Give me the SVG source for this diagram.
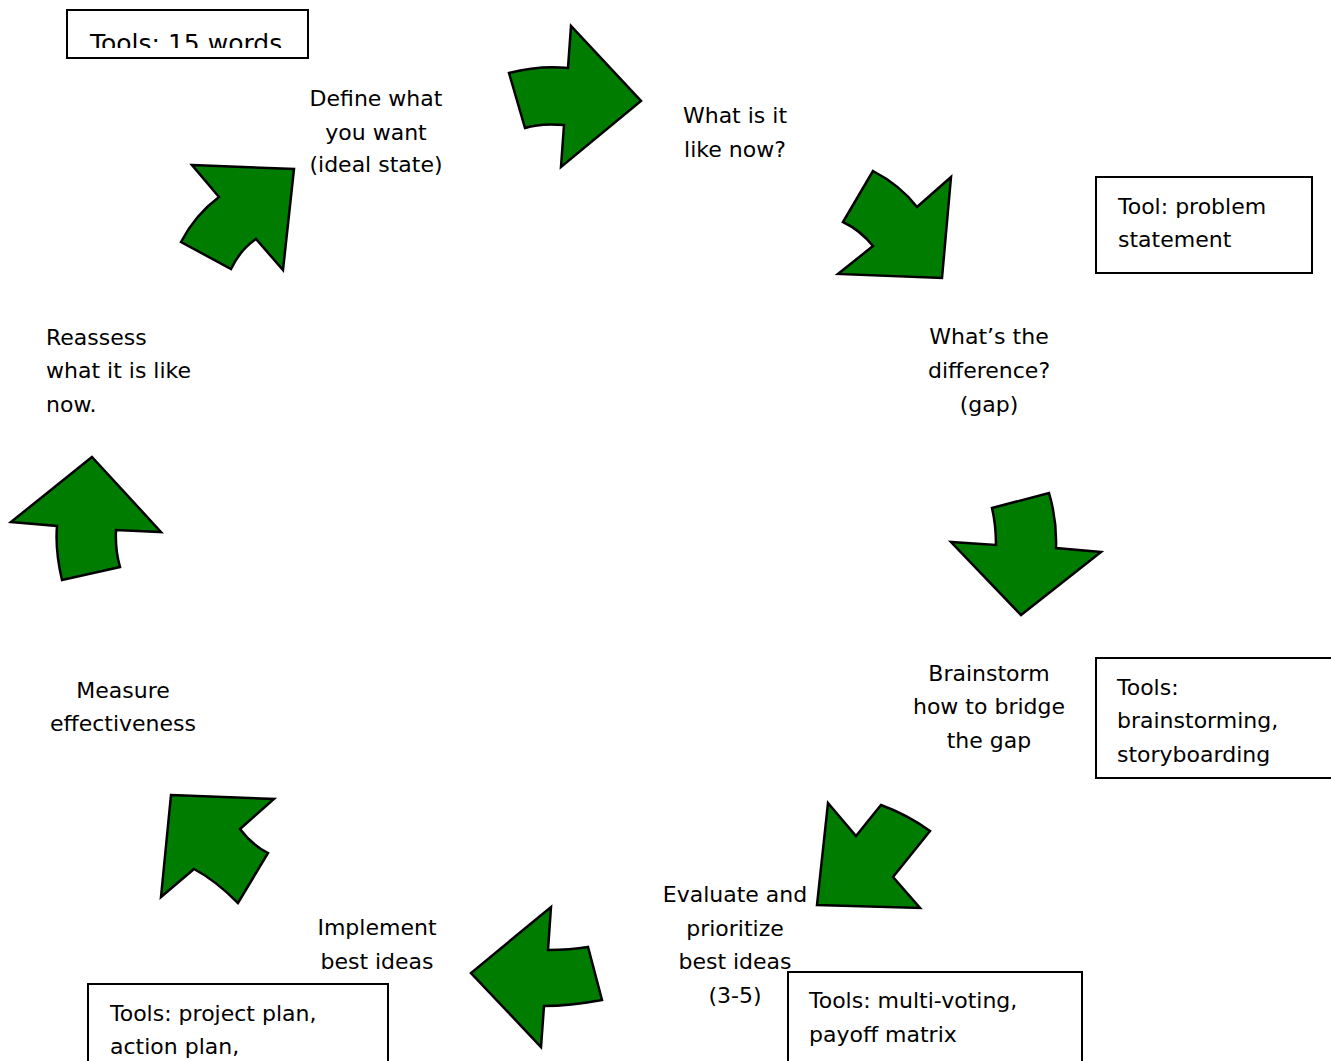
<svg xmlns="http://www.w3.org/2000/svg" width="1331" height="1061" viewBox="0 0 1331 1061">
<style>
.arrow{fill:#007c00;stroke:#000;stroke-width:2.5;stroke-linejoin:miter}
.box{fill:#fff;stroke:#000;stroke-width:2}
text{font-family:"Comic Sans MS","DejaVu Sans",sans-serif;font-size:22px;fill:#000}
.c{text-anchor:middle}
</style>
<defs>
<clipPath id="clip1"><rect x="67" y="10" width="242" height="38"/></clipPath>
</defs>
<rect width="1331" height="1061" fill="#fff"/>
<g id="connectors">
<path id="a1" class="arrow" d="M509,73 Q540,65 568,68 L571,26 L641,101 L561,167 L564,125 Q540,123 525,128 Z"/>
<path id="a2" class="arrow" d="M873,171 Q900,185 917,207 L951,177 L942,278 L838,274 L873,246 Q860,230 843,222 Z"/>
<path id="a3" class="arrow" d="M992,508 L1049,493 Q1057,520 1056,548 L1101,552 L1021,615 L951,542 L996,545 Q996,525 992,508 Z"/>
<path id="a4" class="arrow" d="M828,803 L856,836 L881,805 Q908,815 930,831 L893,877 L920,908 L817,905 Z"/>
<path id="a5" class="arrow" d="M551,907 L548,950 Q570,950 588,947 L602,1000 Q570,1006 544,1006 L541,1047 L471,973 Z"/>
<path id="a6" class="arrow" d="M171,795 L274,799 L240,829 Q252,845 268,853 L238,903 Q215,880 194,869 L161,897 Z"/>
<path id="a7" class="arrow" d="M92,457 L161,532 L116,530 Q115,550 120,567 L62,580 Q55,550 57,526 L11,522 Z"/>
<path id="a8" class="arrow" d="M192,165 L294,169 L283,270 L256,239 Q240,250 231,269 L181,242 Q195,215 219,197 Z"/>
</g>
<g id="box-15words">
<rect class="box" x="67" y="10" width="241" height="48"/>
<text x="90" y="52" style="font-size:25px" clip-path="url(#clip1)">Tools: 15 words</text>
</g>
<g id="n-define">
<text class="c" x="376" y="106">Define what</text>
<text class="c" x="376" y="140">you want</text>
<text class="c" x="376" y="172">(ideal state)</text>
</g>
<g id="n-now">
<text class="c" x="735" y="123">What is it</text>
<text class="c" x="735" y="157">like now?</text>
</g>
<g id="box-problem">
<rect class="box" x="1096" y="177" width="216" height="96"/>
<text x="1118" y="214">Tool: problem</text>
<text x="1118" y="247">statement</text>
</g>
<g id="n-diff">
<text class="c" x="989" y="344">What’s the</text>
<text class="c" x="989" y="378">difference?</text>
<text class="c" x="989" y="412">(gap)</text>
</g>
<g id="n-reassess">
<text x="46" y="345">Reassess</text>
<text x="46" y="378">what it is like</text>
<text x="46" y="412">now.</text>
</g>
<g id="n-brainstorm">
<text class="c" x="989" y="681">Brainstorm</text>
<text class="c" x="989" y="714">how to bridge</text>
<text class="c" x="989" y="748">the gap</text>
</g>
<g id="box-brainstorming">
<path class="box" d="M1332,658 L1096,658 L1096,778 L1332,778"/>
<text x="1117" y="695">Tools:</text>
<text x="1117" y="728">brainstorming,</text>
<text x="1117" y="762">storyboarding</text>
</g>
<g id="n-measure">
<text class="c" x="123" y="698">Measure</text>
<text class="c" x="123" y="731">effectiveness</text>
</g>
<g id="n-evaluate">
<text class="c" x="735" y="902">Evaluate and</text>
<text class="c" x="735" y="936">prioritize</text>
<text class="c" x="735" y="969">best ideas</text>
<text class="c" x="735" y="1003">(3-5)</text>
</g>
<g id="box-voting">
<path class="box" d="M788,1062 L788,972 L1082,972 L1082,1062"/>
<text x="809" y="1008">Tools: multi-voting,</text>
<text x="809" y="1042">payoff matrix</text>
</g>
<g id="n-implement">
<text class="c" x="377" y="935">Implement</text>
<text class="c" x="377" y="969">best ideas</text>
</g>
<g id="box-project">
<path class="box" d="M88,1062 L88,984 L388,984 L388,1062"/>
<text x="110" y="1021">Tools: project plan,</text>
<text x="110" y="1054">action plan,</text>
</g>
</svg>
